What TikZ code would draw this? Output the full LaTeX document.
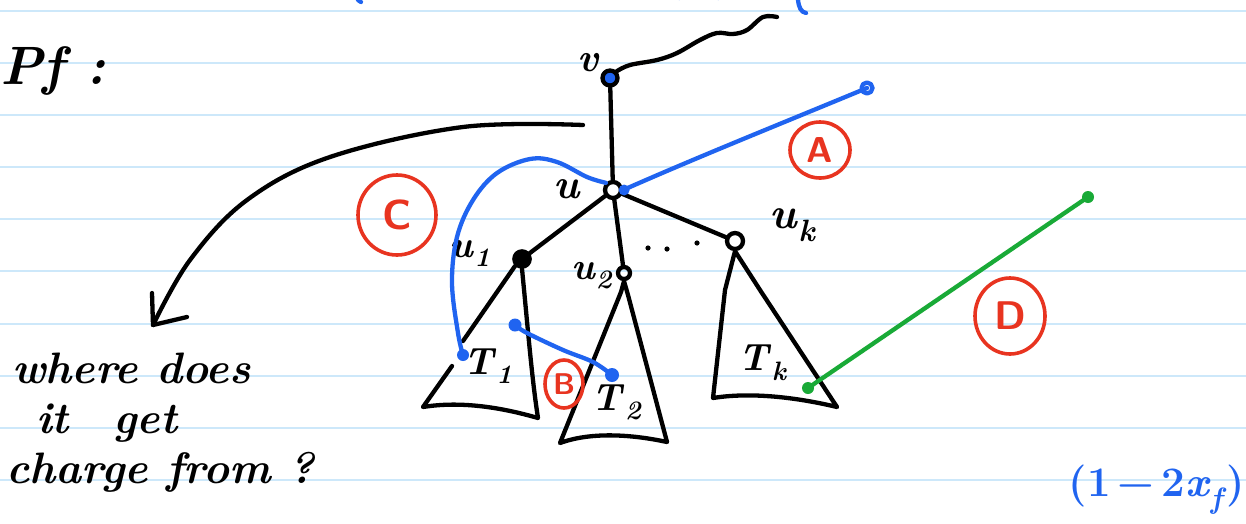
\documentclass[tikz,border=0pt]{standalone}
\usetikzlibrary{shapes.geometric,calc}
\definecolor{rulecol}{RGB}{205,232,250}
\definecolor{penblue}{RGB}{32,100,240}
\definecolor{penred}{RGB}{232,52,32}
\definecolor{pengreen}{RGB}{25,170,55}
\newcommand{\lab}[2]{\textit{#1}\textsubscript{\textit{#2}}}
\begin{document}
\begin{tikzpicture}[x=1pt,y=-1pt,
  ink/.style={line width=4.3pt,line cap=round,line join=round},
  vert/.style={circle,draw=black,line width=4.3pt,inner sep=0pt,minimum size=15pt},
  lbl/.style={font=\fontsize{38}{38}\selectfont\bfseries,inner sep=0pt},
  hand/.style={font=\fontsize{44}{46}\selectfont\bfseries\itshape,inner sep=0pt,anchor=base west},
  circ/.style={ellipse,draw=penred,text=penred,line width=3.6pt,inner sep=0pt,font=\fontsize{36}{36}\selectfont\sffamily\bfseries},
  rulel/.style={draw=rulecol,line width=1.8pt}
]
\useasboundingbox (0,0) rectangle (1246,523);
\fill[white] (0,0) rectangle (1246,523);
% ruled paper
\foreach \yy in {11,63,115,167,219,271,324,376,428,480}
  \draw[rulel] (0,\yy) -- (1246,\yy);

% fragments of text cut off at the top
\draw[ink,penblue] (358,0) -- (361,2);
\draw[ink,penblue] (679,-2) arc[start angle=200,end angle=340,x radius=21,y radius=16];
\draw[ink,penblue] (798,0) .. controls (799,8) and (801,12) .. (806,13);

% heading
\node[hand,font=\fontsize{54}{54}\selectfont\bfseries\itshape] (pf) at (0,84) {Pf :};

% vertices
\node[vert,fill=penblue] (v) at (610,78) {};
\node[vert,minimum size=16pt] (u) at (613,190) {};
\node[vert,fill=black,line width=4.6pt] (u1) at (522,259) {};
\node[vert,minimum size=12pt] (u2) at (624,273) {};
\node[vert,minimum size=16pt] (uk) at (735,241) {};

% vertex labels
\node[lbl,font=\fontsize{40}{40}\selectfont\bfseries\itshape] (lv) at (588,63) {v};
\node[lbl,font=\fontsize{42}{42}\selectfont\bfseries\itshape] (lu) at (567,189) {u};
\node[lbl] (lu1) at (470,253) {\lab{u}{1}};
\node[lbl] (lu2) at (592,276) {\lab{u}{2}};
\node[lbl,font=\fontsize{44}{44}\selectfont\bfseries] (luk) at (793,225) {\lab{u}{k}};

% wavy line above v
\coordinate (wend) at (777,17);
\draw[ink] plot[smooth,tension=0.6] coordinates {(v.north east) (630,65) (657,60) (677,53) (700,40) (717,33) (733,34) (747,30) (763,17) (wend)};

% tree edges
\draw[ink] (v) -- (u);
\draw[ink] (u) -- (u1);
\draw[ink] (u) -- (u2);
\draw[ink] (u) -- (uk);
\fill (648,248) circle (2.6) (667,249) circle (2.6) (697,243) circle (2.6);

% subtrees
\draw[ink] (u1.south west) -- (463,341);
\draw[ink] (452,366) -- (423,407) .. controls (460,401) and (500,407) .. (538,418)
  .. controls (532,380) and (528,330) .. (u1.south);
\draw[ink] (u2.south) -- (621,292) -- (560,443) .. controls (590,432) and (630,434) .. (667,442) -- (628,295) -- (u2.south);
\draw[ink] (uk.south) -- (725,290) -- (713,398) .. controls (750,392) and (795,397) .. (837,407) -- (760,290) -- (uk.south);

% subtree labels
\node[lbl] (lt1) at (488,366) {\lab{T}{1}};
\node[lbl] (lt2) at (617,402) {\lab{T}{2}};
\node[lbl] (ltk) at (763,363) {\lab{T}{k}};

% blue path C
\coordinate (cend) at (463,355);
\draw[ink,penblue] plot[smooth,tension=0.6] coordinates {(u.north west) (587,177) (557,162) (530,159) (497,173) (473,200) (457,237) (452,283) (458,333) (cend)};
\fill[penblue] (cend) circle (6);

% blue path A
\coordinate (aend) at (867,88);
\fill[penblue] ($(u.east)+(1,0)$) circle (5.5);
\draw[ink,penblue] (u.east) .. controls (700,156) and (790,120) .. (aend);
\draw[ink,penblue] (aend) circle (5.5);

% blue path B
\coordinate (bstart) at (515,325);
\coordinate (bend) at (612,375);
\draw[ink,penblue] plot[smooth,tension=0.6] coordinates {(bstart) (527,333) (563,350) (593,362) (bend)};
\fill[penblue] (bstart) circle (6.5) (bend) circle (7);

% green path D
\coordinate (gstart) at (808,388);
\coordinate (gend) at (1088,197);
\draw[ink,pengreen] (gstart) -- (gend);
\fill[pengreen] (gstart) circle (6) (gend) circle (6);

% circled labels
\node[circ,minimum width=60pt,minimum height=56pt] (A) at (820,150) {A};
\node[circ,minimum width=38pt,minimum height=48pt,font=\fontsize{30}{30}\selectfont\sffamily\bfseries] (B) at (564,384) {B};
\node[circ,minimum width=78pt,minimum height=80pt,font=\fontsize{42}{42}\selectfont\sffamily\bfseries] (C) at (397,215) {C};
\node[circ,minimum width=70pt,minimum height=76pt,font=\fontsize{40}{40}\selectfont\sffamily\bfseries] (D) at (1010,316) {D};

% question and curved arrow
\node[hand] (q1) at (12,383) {where does};
\node[hand] (q2) at (36,433) {it\hspace{0.6em} get};
\node[hand] (q3) at (6,483) {charge from ?};
\coordinate (astart) at (583,125);
\coordinate (atip) at (153,325);
\draw[ink] plot[smooth,tension=0.6] coordinates {(astart) (463,127) (330,157) (247,200) (190,260) (atip)};
\draw[ink] (152,293) -- (atip) -- (187,317);

% blue expression
\node[lbl,text=penblue,font=\fontsize{42}{42}\selectfont\bfseries] (expr) at (1157,490) {(1\,−\,2\textit{x}\textsubscript{\textit{f}})};
\end{tikzpicture}
\end{document}
